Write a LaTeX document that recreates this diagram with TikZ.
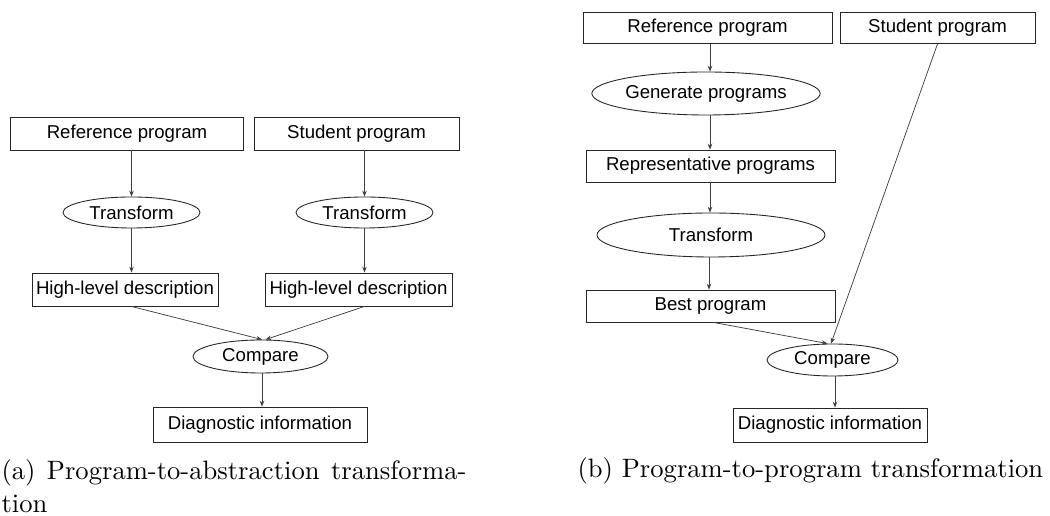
\documentclass[tikz,border=0pt]{standalone}
\usepackage{fontspec}
\newfontfamily\diagfont{Liberation Sans}
\usetikzlibrary{shapes.geometric,arrows.meta}
\newlength\upx
\setlength\upx{0.376pt}
\begin{document}
\begin{tikzpicture}[x=0.376pt, y=-0.376pt,
  box/.style={draw=black!85, line width=0.33pt, rectangle, inner sep=0pt,
    font=\diagfont\fontsize{7}{8}\selectfont},
  oval/.style={draw=black!85, line width=0.33pt, ellipse, inner sep=0pt,
    font=\diagfont\fontsize{7}{8}\selectfont},
  conn/.style={draw=black!75, line width=0.28pt, -{Stealth[length=2.2pt,width=1.7pt]}},
  caption/.style={inner sep=0pt, font=\fontsize{10}{12.4}\selectfont}]
\useasboundingbox (0,0) rectangle (1050,516);

% ---- (a) program-to-abstraction ----
\node[box, minimum width=233\upx, minimum height=33\upx] (refA) at (127,133.5) {Reference program};
\node[box, minimum width=205\upx, minimum height=33\upx] (stuA) at (356.5,133.5) {Student program};
\node[oval, minimum width=137\upx, minimum height=31\upx] (trA1) at (131.5,212.5) {Transform};
\node[oval, minimum width=137\upx, minimum height=31\upx] (trA2) at (364.5,212.5) {Transform};
\node[box, minimum width=186\upx, minimum height=33\upx] (hlA1) at (125,289.5) {High-level description};
\node[box, minimum width=187\upx, minimum height=33\upx] (hlA2) at (358.5,289.5) {High-level description};
\node[oval, minimum width=135\upx, minimum height=33\upx] (cmpA) at (260.5,356.5) {Compare};
\node[box, minimum width=214\upx, minimum height=35\upx] (diagA) at (260,424.5) {Diagnostic information};

\draw[conn] (refA.south -| trA1.north) -- (trA1.north);
\draw[conn] (stuA.south -| trA2.north) -- (trA2.north);
\draw[conn] (trA1.south) -- (trA1.south |- hlA1.north);
\draw[conn] (trA2.south) -- (trA2.south |- hlA2.north);
\draw[conn] (hlA1.south -| trA1.south) -- ([xshift=1.5\upx]cmpA.north);
\draw[conn] (hlA2.south -| trA2.south) -- ([xshift=5\upx]cmpA.north);
\draw[conn] ([xshift=1.5\upx]cmpA.south) -- ([xshift=1.5\upx]cmpA.south |- diagA.north);

% justified first caption line, spaces spread to the full column width
\node[caption, anchor=north west, align=left] (capA) at (1,459)
  {\hbox to 465\upx{(a)\hfill Program-to-abstraction\hfill transforma-}\\tion};

% ---- (b) program-to-program ----
\node[box, minimum width=249\upx, minimum height=31\upx] (refB) at (707.5,28) {Reference program};
\node[box, minimum width=195\upx, minimum height=31\upx] (stuB) at (937.5,28) {Student program};
\node[oval, minimum width=228\upx, minimum height=43\upx] (genB) at (706,93.5) {Generate programs};
\node[box, minimum width=249\upx, minimum height=32\upx] (repB) at (710.5,166) {Representative programs};
\node[oval, minimum width=228\upx, minimum height=44\upx] (trB) at (711,235) {Transform};
\node[box, minimum width=249\upx, minimum height=32\upx] (bestB) at (710.5,306) {Best program};
\node[oval, minimum width=131\upx, minimum height=32\upx] (cmpB) at (832.5,360) {Compare};
\node[box, minimum width=194\upx, minimum height=34\upx] (diagB) at (830,425) {Diagnostic information};

\draw[conn] ([xshift=2.5\upx]refB.south) -- ([xshift=2.5\upx]refB.south |- genB.north);
\draw[conn] ([xshift=4\upx]genB.south) -- ([xshift=4\upx]genB.south |- repB.north);
\draw[conn] ([xshift=-0.5\upx]repB.south) -- ([xshift=-0.5\upx]repB.south |- trB.north);
\draw[conn] ([xshift=-2\upx]trB.south) -- ([xshift=-2\upx]trB.south |- bestB.north);
\draw[conn] ([xshift=3\upx]bestB.south) -- ([xshift=-5\upx]cmpB.north);
\draw[conn] (stuB.south) -- ([xshift=-1.5\upx]cmpB.north);
\draw[conn] ([xshift=2.5\upx]cmpB.south) -- ([xshift=2.5\upx]cmpB.south |- diagB.north);

\node[caption, anchor=base west] (capB) at (577,478) {(b) Program-to-program transformation};
\end{tikzpicture}
\end{document}
